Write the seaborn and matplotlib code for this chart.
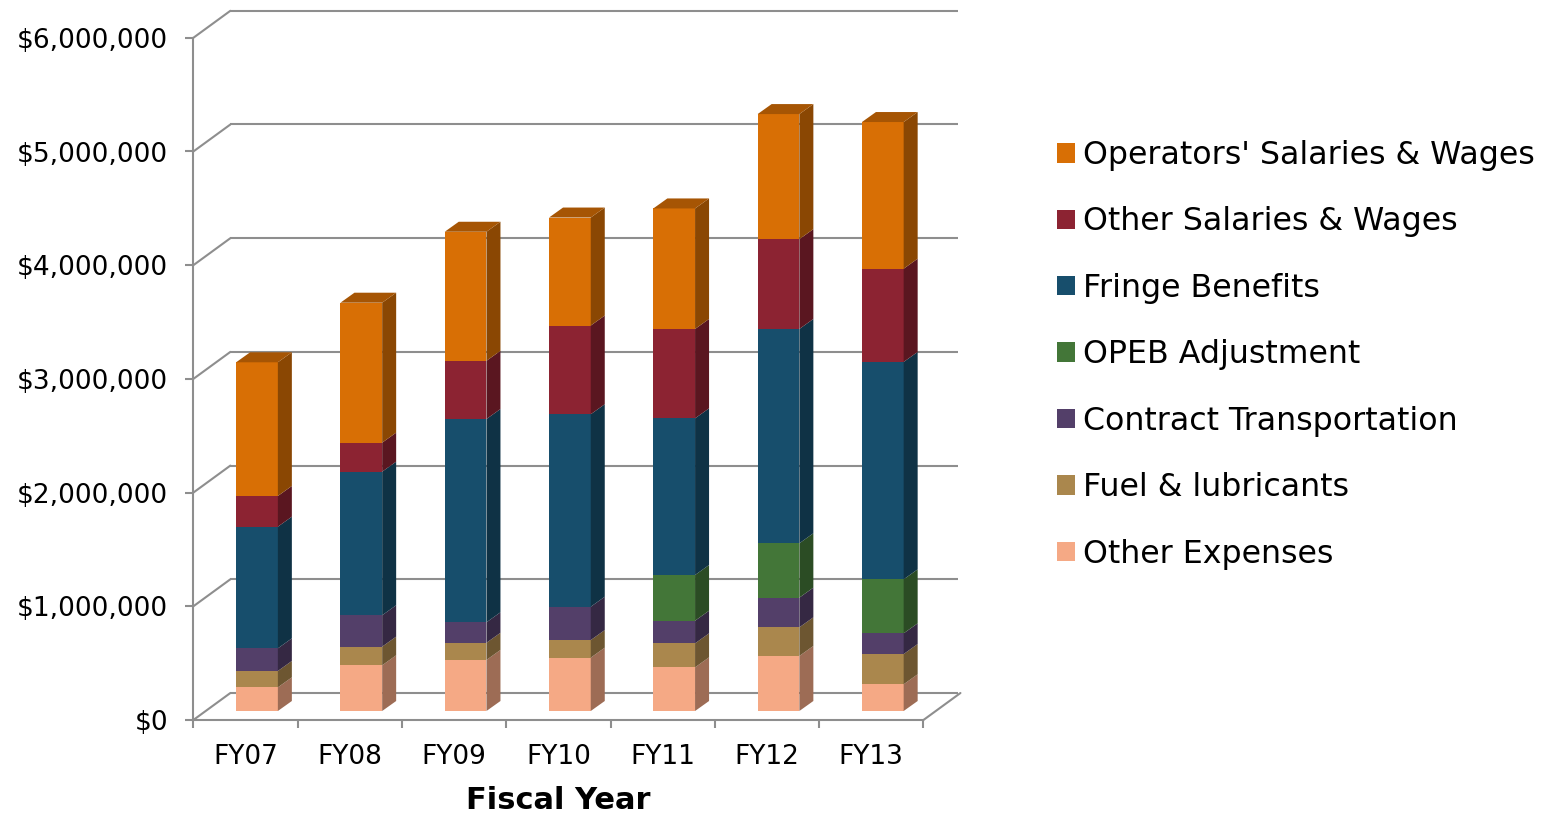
import numpy as np
import pandas as pd
import matplotlib
matplotlib.use("Agg")
import matplotlib.pyplot as plt
import seaborn as sns
from matplotlib.patches import Patch
from matplotlib.colors import to_rgb

# ---------------- data ----------------
years = ["FY07", "FY08", "FY09", "FY10", "FY11", "FY12", "FY13"]
other_expenses = [208000, 402000, 449000, 469000, 384000, 484000, 235000]
fuel_lubricants = [144000, 164000, 151000, 155000, 211000, 252000, 266000]
contract_transportation = [199000, 276000, 180000, 293000, 199000, 261000, 182000]
opeb_adjustment = [0, 0, 0, 0, 402000, 478000, 475000]
fringe_benefits = [1070000, 1263000, 1788000, 1693000, 1378000, 1885000, 1912000]
other_salaries = [270000, 255000, 512000, 780000, 786000, 790000, 820000]
operators_salaries = [1176000, 1231000, 1135000, 950000, 1060000, 1100000, 1290000]

series_names = ["Other Expenses", "Fuel & lubricants", "Contract Transportation",
                "OPEB Adjustment", "Fringe Benefits", "Other Salaries & Wages",
                "Operators' Salaries & Wages"]
series_values = [other_expenses, fuel_lubricants, contract_transportation,
                 opeb_adjustment, fringe_benefits, other_salaries, operators_salaries]
series_colors = ["#F5A985", "#AA874D", "#533F69", "#437638", "#174E6C", "#8C2332", "#D86F05"]

y_tick_values = [0, 1000000, 2000000, 3000000, 4000000, 5000000, 6000000]
y_tick_labels = ["$0", "$1,000,000", "$2,000,000", "$3,000,000", "$4,000,000",
                 "$5,000,000", "$6,000,000"]
x_title = "Fiscal Year"

# ---------------- layout / projection constants ----------------
W, H = 1551, 822
PX_CAT = 104.3          # pixels per category
PX_UNIT = 113.7 / 1e6   # pixels per dollar
BAR_X0_PX = 257         # pixel centre of first bar front face
BAR_Y0_PX = 711         # pixel baseline of bar front face
AX_L, AX_R, AX_T, AX_B = 193, 975, 0, 720

FDX = (245.5 - BAR_X0_PX) / PX_CAT            # front plane offset (x)
FDY = (BAR_Y0_PX - 720) / PX_UNIT             # front plane offset (y)
DEPTH_DX = 37 / PX_CAT                        # full wall depth
DEPTH_DY = 27 / PX_UNIT
BDX, BDY = FDX + DEPTH_DX, FDY + DEPTH_DY     # back plane offset
BAR_DDX = 14 / PX_CAT                         # bar depth
BAR_DDY = 10 / PX_UNIT
BAR_W = 0.40
GRAY = "#8E8E8E"
LW = 1.5

sns.set_theme(style="white")
plt.rcParams["font.family"] = ["DejaVu Sans"]
plt.rcParams["text.color"] = "black"

fig = plt.figure(figsize=(W / 100, H / 100), dpi=100)
ax = fig.add_axes([AX_L / W, (H - AX_B) / H, (AX_R - AX_L) / W, (AX_B - AX_T) / H])

# ---------------- bars (front faces) ----------------
vals = np.array(series_values, dtype=float)
cum = np.cumsum(vals, axis=0)
bottoms = cum - vals

for k in range(len(series_names) - 1, -1, -1):
    dfk = pd.DataFrame({"year": years, "total": cum[k]})
    sns.barplot(data=dfk, x="year", y="total", order=years, color=series_colors[k],
                width=BAR_W, saturation=1, errorbar=None, linewidth=0,
                edgecolor="none", ax=ax, zorder=3)


def shade(c, f):
    r, g, b = to_rgb(c)
    return (r * f, g * f, b * f)


# ---------------- bar sides and tops ----------------
xs = np.arange(len(years))
for k in range(len(series_names)):
    side_col = shade(series_colors[k], 0.64)
    for i, x in enumerate(xs):
        b, t = bottoms[k, i], cum[k, i]
        xr = x + BAR_W / 2
        ax.fill([xr, xr + BAR_DDX, xr + BAR_DDX, xr],
                [b, b + BAR_DDY, t + BAR_DDY, t],
                color=side_col, lw=0, zorder=3)
top_col = shade(series_colors[-1], 0.77)
for i, x in enumerate(xs):
    t = cum[-1, i]
    xl, xr = x - BAR_W / 2, x + BAR_W / 2
    ax.fill([xl, xr, xr + BAR_DDX, xl + BAR_DDX],
            [t, t, t + BAR_DDY, t + BAR_DDY],
            color=top_col, lw=0, zorder=3)

# ---------------- 3D frame: back wall grid, diagonals, floor ----------------
front_left = -0.5 + FDX
front_right = len(years) - 0.5 + FDX
back_left = -0.5 + BDX
back_right = (958 - BAR_X0_PX) / PX_CAT
for v in y_tick_values:
    ax.plot([back_left, back_right], [v + BDY, v + BDY], color=GRAY, lw=LW,
            zorder=1, clip_on=False, solid_capstyle="butt")
    ax.plot([front_left, back_left], [v + FDY, v + BDY], color=GRAY, lw=LW,
            zorder=1, clip_on=False)
ax.plot([front_right, front_right + DEPTH_DX], [FDY, FDY + DEPTH_DY], color=GRAY,
        lw=LW, zorder=1, clip_on=False)

# ---------------- axes ----------------
ax.set_xlim((AX_L - BAR_X0_PX) / PX_CAT, (AX_R - BAR_X0_PX) / PX_CAT)
ax.set_ylim((BAR_Y0_PX - AX_B) / PX_UNIT, (BAR_Y0_PX - AX_T) / PX_UNIT)

for s in ["top", "right"]:
    ax.spines[s].set_visible(False)
for s in ["left", "bottom"]:
    ax.spines[s].set_color(GRAY)
    ax.spines[s].set_linewidth(LW)
ax.spines["left"].set_bounds(FDY, y_tick_values[-1] + FDY)
ax.spines["bottom"].set_bounds(front_left, front_right)

ax.set_yticks([v + FDY for v in y_tick_values])
ax.set_yticklabels(y_tick_labels)
ax.tick_params(axis="y", which="major", left=True, length=5.8, width=LW, color=GRAY,
               pad=12, labelsize=19, labelcolor="black")

ax.set_xticks([k - 0.5 + FDX for k in range(len(years) + 1)])
ax.set_xticklabels([""] * (len(years) + 1))
ax.set_xticks([i + FDX for i in range(len(years))], minor=True)
ax.set_xticklabels(years, minor=True)
ax.tick_params(axis="x", which="major", bottom=True, length=5.8, width=LW, color=GRAY)
ax.tick_params(axis="x", which="minor", bottom=True, length=0, pad=17, labelsize=19,
               labelcolor="black")

ax.set_ylabel("")
ax.set_xlabel(x_title, fontsize=22, fontweight="bold", color="black")
ax.xaxis.set_label_coords((558 - AX_L) / (AX_R - AX_L), (AX_B - 800) / (AX_B - AX_T))
ax.xaxis.label.set_verticalalignment("center")
ax.grid(False)

# ---------------- legend ----------------
handles = [Patch(facecolor=series_colors[k], edgecolor="none", label=series_names[k])
           for k in range(len(series_names) - 1, -1, -1)]
fig.legend(handles=handles, loc="upper left", bbox_to_anchor=(1057 / W, 1 - 140 / H),
           frameon=False, fontsize=22.8, handlelength=0.57, handleheight=0.57,
           handletextpad=0.25, labelspacing=1.12, borderpad=0, borderaxespad=0,
           labelcolor="black")

fig.savefig("out.png", dpi=100, facecolor="white")
